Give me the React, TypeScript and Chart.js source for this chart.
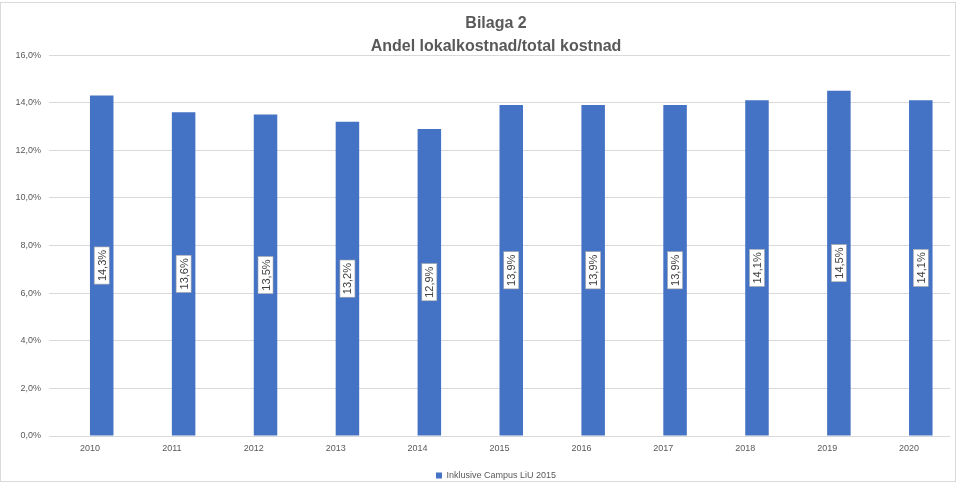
import React, { useEffect, useRef } from "react";
import { Chart, registerables } from "chart.js";

Chart.register(...registerables);

const categories = ["2010", "2011", "2012", "2013", "2014", "2015", "2016", "2017", "2018", "2019", "2020"];
const seriesName = "Inklusive Campus LiU 2015";
const seriesValues = [14.3, 13.6, 13.5, 13.2, 12.9, 13.9, 13.9, 13.9, 14.1, 14.5, 14.1];
const emptySeries = categories.map(() => null as number | null);
const titleLines = ["Bilaga 2", "Andel lokalkostnad/total kostnad"];

const FONT = "'Liberation Sans', Arial, sans-serif";
const fmt = (v: number) => `${v.toFixed(1).replace(".", ",")}%`;

const labelPlugin = {
  id: "barLabels",
  afterLayout(chart: any) {
    const shift = 28;
    if (chart.titleBlock) {
      chart.titleBlock.left += shift;
      chart.titleBlock.top += 3;
      chart.titleBlock.bottom += 3;
    }
    if (chart.legend) chart.legend.left += shift;
  },
  beforeDraw(chart: any) {
    const ctx = chart.ctx;
    ctx.save();
    ctx.strokeStyle = "#D9D9D9";
    ctx.lineWidth = 1;
    ctx.strokeRect(0.5, 2.5, 955, 479);
    ctx.restore();
  },
  afterDatasetsDraw(chart: any) {
    const ctx = chart.ctx;
    const meta = chart.getDatasetMeta(1);
    ctx.save();
    ctx.font = `11px ${FONT}`;
    meta.data.forEach((bar: any, i: number) => {
      const v = seriesValues[i];
      const txt = fmt(v);
      const cx = bar.x;
      const cy = (bar.y + bar.base) / 2;
      const w = ctx.measureText(txt).width;
      ctx.save();
      ctx.translate(cx, cy);
      ctx.rotate(-Math.PI / 2);
      const bw = w + 6;
      const bh = 15;
      ctx.fillStyle = "#FFFFFF";
      ctx.fillRect(-bw / 2, -bh / 2, bw, bh);
      ctx.strokeStyle = "#A6A6A6";
      ctx.lineWidth = 0.6;
      ctx.strokeRect(-bw / 2, -bh / 2, bw, bh);
      ctx.fillStyle = "#404040";
      ctx.textAlign = "center";
      ctx.textBaseline = "middle";
      ctx.fillText(txt, 0, 1);
      ctx.restore();
    });
    ctx.restore();
  },
};

export default function App() {
  const ref = useRef<HTMLCanvasElement | null>(null);
  useEffect(() => {
    if (!ref.current) return;
    const chart = new Chart(ref.current, {
      type: "bar",
      data: {
        labels: categories,
        datasets: [
          {
            label: "",
            data: emptySeries,
            backgroundColor: "#ED7D31",
            categoryPercentage: 0.574,
            barPercentage: 1,
          },
          {
            label: seriesName,
            data: seriesValues,
            backgroundColor: "#4472C4",
            categoryPercentage: 0.574,
            barPercentage: 1,
          },
        ],
      },
      options: {
        animation: false,
        responsive: false,
        maintainAspectRatio: false,
        layout: { padding: { left: 4, right: 0, top: 9, bottom: -6 } },
        plugins: {
          title: {
            display: true,
            text: titleLines,
            color: "#595959",
            font: { family: FONT, size: 16, weight: "bold", lineHeight: 1.44 },
            padding: { top: 0, bottom: 0 },
          },
          legend: {
            display: true,
            position: "bottom",
            labels: {
              filter: (item: any) => item.datasetIndex === 1,
              boxWidth: 6,
              boxHeight: 6,
              color: "#595959",
              font: { family: FONT, size: 9 },
              padding: 5,
            },
          },
          tooltip: { enabled: false },
        },
        scales: {
          x: {
            grid: { display: false, drawTicks: false },
            border: { display: false },
            ticks: { color: "#595959", font: { family: FONT, size: 9 }, padding: 7 },
            afterFit: (s: any) => {
              s.height = 30;
            },
          },
          y: {
            min: 0,
            max: 16,
            ticks: {
              stepSize: 2,
              color: "#595959",
              font: { family: FONT, size: 9 },
              padding: 8,
              callback: (v: any) => fmt(Number(v)),
            },
            grid: { color: "#D9D9D9", drawTicks: false },
            border: { display: false },
            afterFit: (s: any) => {
              s.width = 45;
            },
          },
          y2: {
            position: "right",
            display: true,
            min: 0,
            max: 16,
            ticks: { display: false },
            grid: { display: false, drawTicks: false },
            border: { display: false },
            afterFit: (s: any) => {
              s.width = 10;
            },
          },
        },
      },
      plugins: [labelPlugin],
    });
    return () => chart.destroy();
  }, []);
  return (
    <div style={{ position: "fixed", left: 0, top: 0, width: 960, height: 484, background: "#fff" }}>
      <canvas ref={ref} width={960} height={484} style={{ width: 960, height: 484 }} />
    </div>
  );
}
